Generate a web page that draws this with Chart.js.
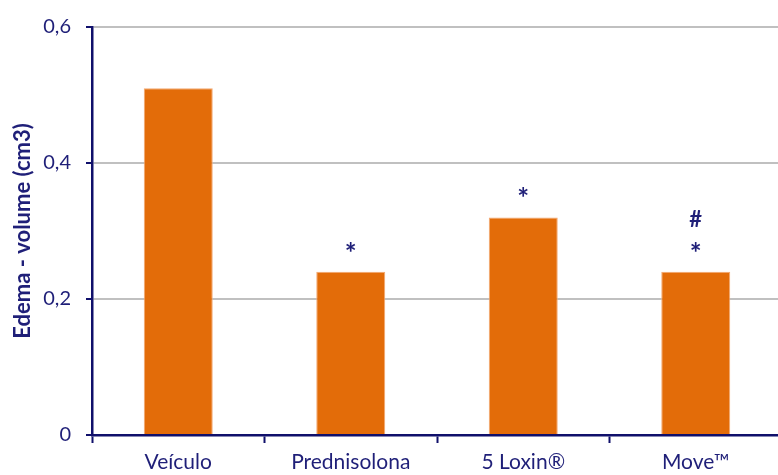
<!DOCTYPE html>
<html>
<head>
<meta charset="utf-8">
<script src="https://cdn.jsdelivr.net/npm/chart.js@4.4.1/dist/chart.umd.min.js"></script>
<style>
  html, body { margin: 0; padding: 0; background: #fff; overflow: hidden; width: 778px; height: 475px; }
  canvas { display: block; }
</style>
</head>
<body>
<canvas id="c" width="782" height="475"></canvas>
<script>
const categories = ['Veículo', 'Prednisolona', '5 Loxin®', 'Move™'];
const edemaVolume = [0.51, 0.24, 0.32, 0.24];
const markStar = ['', '*', '*', '*'];
const markHash = ['', '', '', '#'];
const yTickLabels = ['0', '0,2', '0,4', '0,6'];
const yTitle = 'Edema - volume (cm3)';

const NAVY = '#1F1F78';
const AXIS = '#10106B';
const ORANGE = '#E36C09';
const FONT = 'Lato, "Liberation Sans", sans-serif';

function drawCentered(ctx, text, x, cy) {
  ctx.textBaseline = 'alphabetic';
  const m = ctx.measureText(text);
  const asc = m.actualBoundingBoxAscent, desc = m.actualBoundingBoxDescent;
  ctx.fillText(text, x, cy + (asc - desc) / 2);
}

const markPlugin = {
  id: 'marks',
  afterDatasetsDraw(chart) {
    const ctx = chart.ctx;
    const meta = chart.getDatasetMeta(0);
    ctx.save();
    ctx.fillStyle = NAVY;
    ctx.textAlign = 'center';
    meta.data.forEach((el, i) => {
      if (markStar[i]) {
        ctx.font = 'bold 28px ' + FONT;
        drawCentered(ctx, markStar[i], el.x, el.y - 25);
      }
      if (markHash[i]) {
        ctx.font = 'bold 22px ' + FONT;
        drawCentered(ctx, markHash[i], el.x, el.y - 53);
      }
    });
    ctx.restore();
  }
};

new Chart(document.getElementById('c'), {
  type: 'bar',
  data: {
    labels: categories,
    datasets: [{
      data: edemaVolume,
      backgroundColor: ORANGE,
      borderColor: '#F3A872',
      borderWidth: 1,
      categoryPercentage: 1.0,
      barPercentage: 0.4
    }]
  },
  options: {
    responsive: false,
    animation: false,
    events: [],
    layout: { padding: { top: 26, right: 0, bottom: 0, left: 0 } },
    plugins: { legend: { display: false }, tooltip: { enabled: false } },
    scales: {
      x: {
        offset: true,
        grid: {
          offset: true,
          drawOnChartArea: false,
          drawTicks: true,
          tickLength: 8,
          tickColor: AXIS,
          tickWidth: 2
        },
        border: { display: true, color: AXIS, width: 2.5 },
        ticks: {
          color: NAVY,
          font: { family: FONT, size: 21 },
          padding: 7,
          maxRotation: 0
        },
        afterFit(scale) { scale.height = 40; }
      },
      y: {
        min: 0,
        max: 0.6,
        ticks: {
          stepSize: 0.2,
          color: NAVY,
          font: { family: FONT, size: 20 },
          padding: 15,
          callback: (v, i) => yTickLabels[i]
        },
        grid: {
          color: '#C0C0C0',
          lineWidth: 2,
          drawTicks: true,
          tickLength: 6,
          tickColor: AXIS,
          tickWidth: 2
        },
        border: { display: true, color: AXIS, width: 2.5 },
        title: {
          display: true,
          text: yTitle,
          color: NAVY,
          font: { family: FONT, size: 22, weight: 'bold' },
          padding: { top: 10, bottom: 0 }
        },
        afterFit(scale) { scale.width = 92; }
      }
    }
  },
  plugins: [markPlugin]
});
</script>
</body>
</html>
